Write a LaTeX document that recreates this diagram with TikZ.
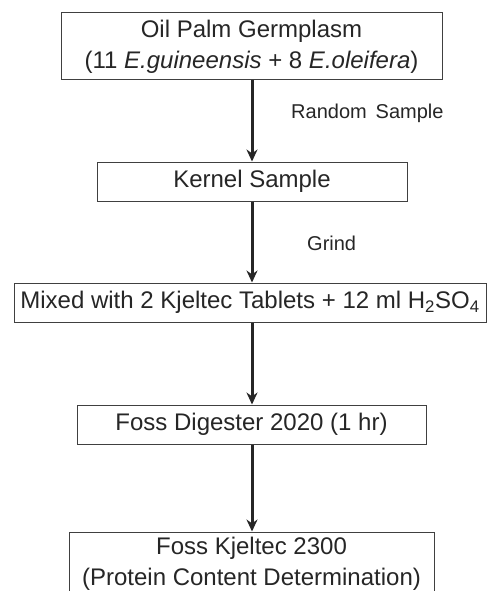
\documentclass[tikz,border=0pt]{standalone}
\usepackage{fontspec}
\setmainfont{Liberation Sans}
\usetikzlibrary{arrows.meta}
\begin{document}
\begin{tikzpicture}[x=1pt,y=-1pt,
  box/.style={draw=black!75,line width=1pt,rectangle,inner sep=0pt,font=\fontsize{24}{31}\selectfont,text=black!85,align=center},
  lbl/.style={font=\fontsize{20}{24}\selectfont,text=black!85,inner sep=0pt},
  flow/.style={line width=3pt,draw=black!85,-{Stealth[length=12pt,width=11pt]}}]
\useasboundingbox (0,0) rectangle (487,591);
\clip (0,0) rectangle (487,591);
\fill[white] (0,0) rectangle (487,591);
\node[box,minimum width=381pt,minimum height=67pt] (b1) at (251.5,46.5)
  {Oil Palm Germplasm\\(11 \textit{E.guineensis} + 8 \textit{E.oleifera})};
\node[box,minimum width=310pt,minimum height=39pt] (b2) at (252,181.5) {Kernel Sample};
\node[box,minimum width=472pt,minimum height=39pt] (b3) at (250,302.5)
  {Mixed with 2 Kjeltec Tablets + 12 ml H\textsubscript{2}SO\textsubscript{4}};
\node[box,minimum width=349pt,minimum height=39pt] (b4) at (251.5,424.5) {Foss Digester 2020 (1 hr)};
\node[box,minimum width=365pt,minimum height=64pt] (b5) at (251.5,564) {Foss Kjeltec 2300\\(Protein Content Determination)};
\node[lbl,anchor=west] (l1) at (291,113) {Random\ \,Sample};
\node[lbl,anchor=west] (l2) at (307,243) {Grind};
\draw[flow] (b1.south -| b2.north) -- (b2.north);
\draw[flow] (b2.south) -- (b3.north -| b2.south);
\draw[flow] (b3.south -| b2.south) -- (b4.north -| b2.south);
\draw[flow] (b4.south -| b2.south) -- (b5.north -| b2.south);
\end{tikzpicture}
\end{document}
